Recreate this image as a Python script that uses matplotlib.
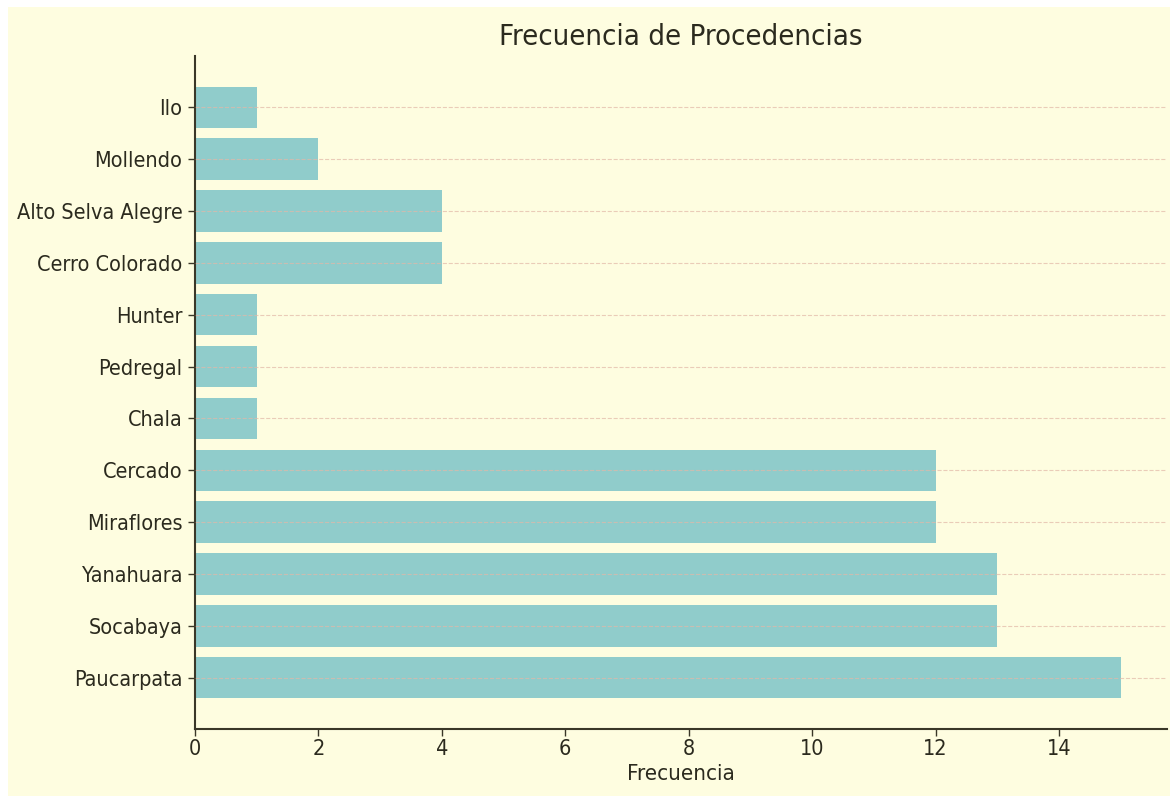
import matplotlib
matplotlib.use("Agg")
import matplotlib.pyplot as plt
from matplotlib.patches import Rectangle

# Procedencias y frecuencias (de arriba hacia abajo en el gráfico)
procedencias = ["Paucarpata", "Socabaya", "Yanahuara", "Miraflores", "Cercado",
                "Chala", "Pedregal", "Hunter", "Cerro Colorado",
                "Alto Selva Alegre", "Mollendo", "Ilo"]
frecuencias = [15, 13, 13, 12, 12, 1, 1, 1, 4, 4, 2, 1]
xticks = [0, 2, 4, 6, 8, 10, 12, 14]

bg = "#FEFDE0"
bar_color = "#90CCCB"
text_color = "#2B2A1E"
spine_color = "#3A3728"

plt.rcParams["font.family"] = ["DejaVu Sans"]
plt.rcParams["font.stretch"] = "condensed"

fig = plt.figure(figsize=(11.7, 7.96), dpi=100, facecolor="white")
fig.patches.append(Rectangle((8 / 1170, 0), 1, 1 - 7 / 796,
                             transform=fig.transFigure, facecolor=bg,
                             edgecolor="none", zorder=-10))
ax = fig.add_axes([195 / 1170, 1 - 729 / 796, (1167 - 195) / 1170, (729 - 56) / 796])
ax.set_facecolor(bg)

ax.barh(procedencias, frecuencias, height=0.8, color=bar_color, zorder=2)
ax.grid(axis="y", color="#E2B8A8", linestyle="--", linewidth=0.8, alpha=0.7, zorder=3)
ax.set_axisbelow(False)

ax.set_xticks(xticks)
for s in ["top", "right"]:
    ax.spines[s].set_visible(False)
for s in ["left", "bottom"]:
    ax.spines[s].set_color(spine_color)
    ax.spines[s].set_linewidth(1.5)
ax.tick_params(colors=spine_color, labelcolor=text_color, labelsize=15.5, length=5, width=1)
ax.tick_params(axis="y", pad=4)
ax.tick_params(axis="x", pad=2)

ax.set_title("Frecuencia de Procedencias", fontsize=21, color=text_color, pad=8)
ax.set_xlabel("Frecuencia", fontsize=16, color=text_color, labelpad=4)

fig.savefig("out.png", dpi=100, facecolor="white")
